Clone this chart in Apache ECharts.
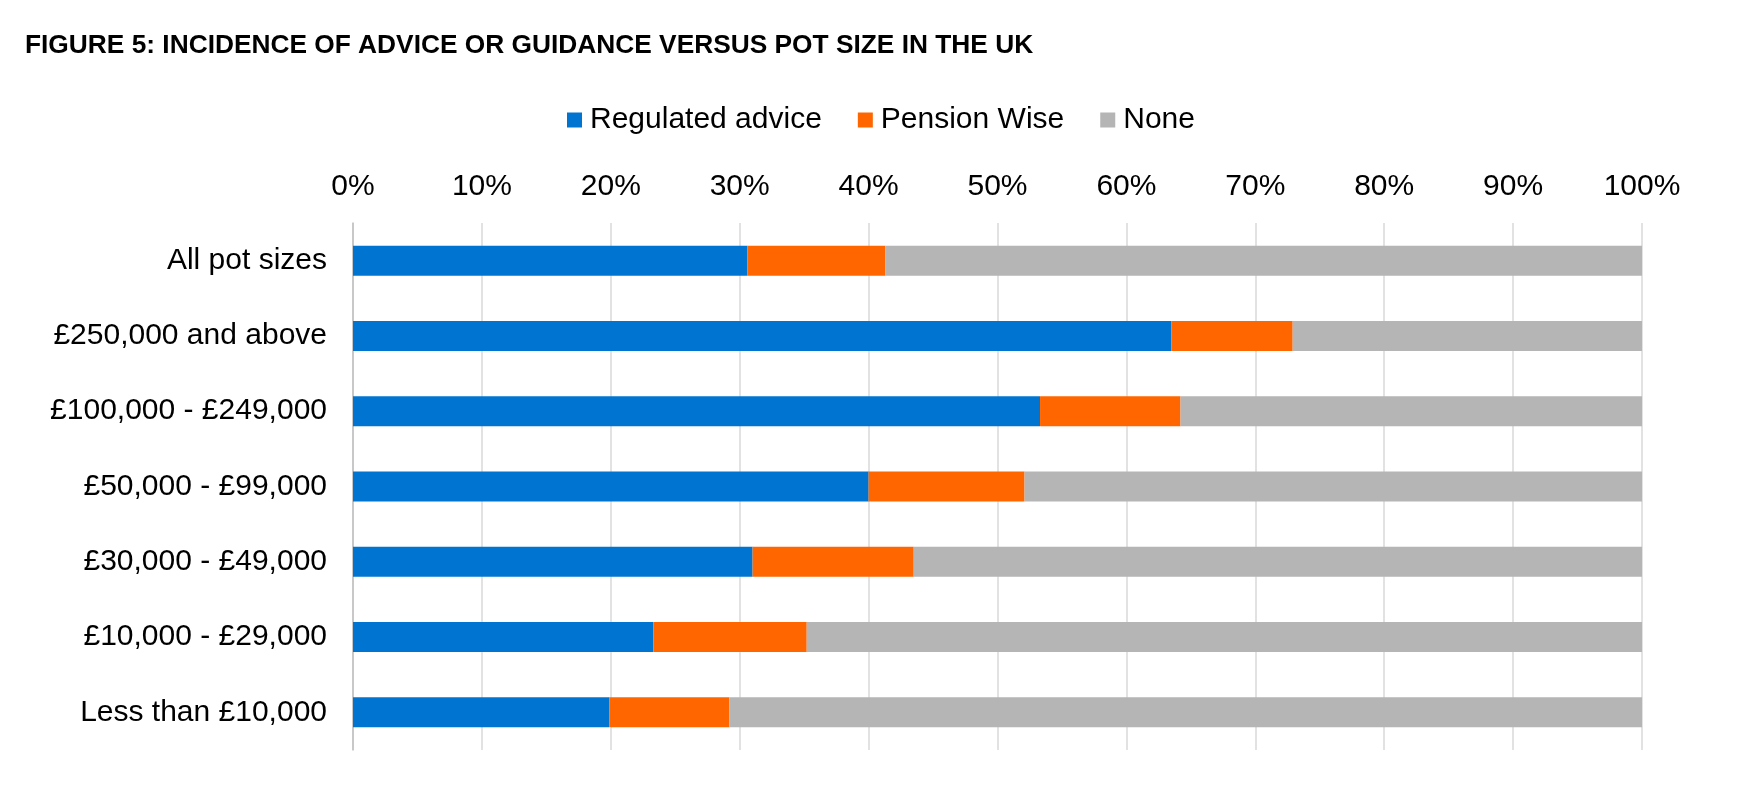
<!DOCTYPE html>
<html>
<head>
<meta charset="utf-8">
<script src="https://cdn.jsdelivr.net/npm/echarts@6/dist/echarts.min.js"></script>
<style>
html,body{margin:0;padding:0;background:#fff;}
#chart{width:1749px;height:797px;}
</style>
</head>
<body>
<div id="chart"></div>
<script>
const titleText = 'FIGURE 5: INCIDENCE OF ADVICE OR GUIDANCE VERSUS POT SIZE IN THE UK';
const categories = ['All pot sizes', '£250,000 and above', '£100,000 - £249,000', '£50,000 - £99,000', '£30,000 - £49,000', '£10,000 - £29,000', 'Less than £10,000'];
const seriesNames = ['Regulated advice', 'Pension Wise', 'None'];
const regulatedAdvice = [30.6, 63.5, 53.3, 40.0, 31.0, 23.3, 19.9];
const pensionWise = [10.7, 9.4, 10.9, 12.1, 12.5, 11.9, 9.3];
const none = [58.7, 27.1, 35.8, 47.9, 56.5, 64.8, 70.8];
const colors = ['#0074D1', '#FF6600', '#B5B5B5'];

const font = '"Liberation Sans", Arial, sans-serif';
const chart = echarts.init(document.getElementById('chart'), null, {renderer: 'canvas'});
const dataSets = [regulatedAdvice, pensionWise, none];
chart.setOption({
  animation: false,
  backgroundColor: '#ffffff',
  title: {
    text: titleText,
    left: 20, top: 28,
    textStyle: {fontFamily: font, fontWeight: 'bold', fontSize: 26.3, color: '#000'}
  },
  legend: {
    data: seriesNames,
    left: 562, top: 100,
    icon: 'rect', itemWidth: 15, itemHeight: 15, itemGap: 36,
    textStyle: {fontFamily: font, fontSize: 30, color: '#000', padding: [0,0,0,3]}
  },
  grid: {left: 353, right: 107, top: 223, bottom: 47, containLabel: false},
  xAxis: {
    type: 'value', position: 'top', min: 0, max: 100, interval: 10,
    axisLabel: {formatter: '{value}%', fontFamily: font, fontSize: 30, color: '#000', margin: 21},
    axisLine: {show: false}, axisTick: {show: false},
    splitLine: {show: true, lineStyle: {color: '#D9D9D9', width: 1.5}}
  },
  yAxis: {
    type: 'category', data: categories, inverse: true,
    axisLabel: {fontFamily: font, fontSize: 30, color: '#000', margin: 26},
    axisLine: {show: true, lineStyle: {color: '#BFBFBF', width: 1.5}},
    axisTick: {show: false}
  },
  series: seriesNames.map((name, i) => ({
    name, type: 'bar', stack: 'total', barWidth: 30,
    data: dataSets[i],
    itemStyle: {color: colors[i]}
  }))
});
</script>
</body>
</html>
